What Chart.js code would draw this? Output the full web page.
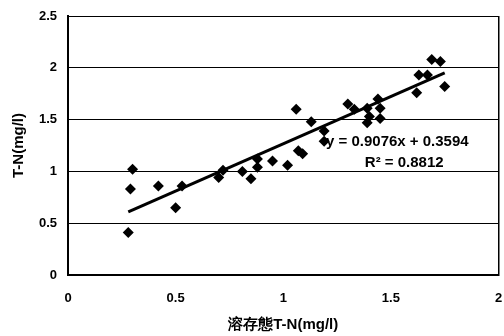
<!DOCTYPE html>
<html>
<head>
<meta charset="utf-8">
<script src="https://cdn.jsdelivr.net/npm/chart.js@4/dist/chart.umd.min.js"></script>
<style>
  html, body { margin: 0; padding: 0; background: #fff; overflow: hidden; }
</style>
</head>
<body>
<canvas id="chart" width="504" height="336"></canvas>
<script>
var dissolvedTN = [0.28, 0.29, 0.30, 0.42, 0.50, 0.53, 0.70, 0.72, 0.81, 0.85,
                   0.88, 0.88, 0.95, 1.02, 1.07, 1.09, 1.06, 1.13, 1.19, 1.19,
                   1.30, 1.33, 1.39, 1.39, 1.40, 1.44, 1.45, 1.45, 1.62, 1.63,
                   1.67, 1.69, 1.73, 1.75];
var totalTN = [0.41, 0.83, 1.02, 0.86, 0.65, 0.86, 0.94, 1.01, 1.00, 0.93,
               1.04, 1.12, 1.10, 1.06, 1.20, 1.17, 1.60, 1.48, 1.39, 1.29,
               1.65, 1.60, 1.61, 1.47, 1.53, 1.70, 1.61, 1.51, 1.76, 1.93,
               1.93, 2.08, 2.06, 1.82];

// trend line ends as drawn
var trendX = [0.28, 1.75];
var trendY = [0.61, 1.95];

var equationText = 'y = 0.9076x + 0.3594';
var r2Text = 'R\u00B2 = 0.8812';

var yTicks = [0, 0.5, 1, 1.5, 2, 2.5];
var xTicks = [0, 0.5, 1, 1.5, 2];

var FONT = 'Liberation Sans, Arial, sans-serif';

var scatterPoints = dissolvedTN.map(function(x, i) { return {x: x, y: totalTN[i]}; });
var trendPoints = trendX.map(function(x, i) { return {x: x, y: trendY[i]}; });

/**
 *  Writes the regression equation next to the line.
 */
var equationLabel = {
    id: 'equationLabel',
    afterDatasetsDraw: function(chart) {
        var ctx = chart.ctx;
        var xs = chart.scales.x, ys = chart.scales.y;
        ctx.save();
        ctx.fillStyle = '#000';
        ctx.font = 'bold 15px ' + FONT;
        ctx.textAlign = 'center';
        ctx.textBaseline = 'middle';
        ctx.fillText(equationText, xs.getPixelForValue(1.53), ys.getPixelForValue(1.284));
        ctx.fillText(r2Text, xs.getPixelForValue(1.562), ys.getPixelForValue(1.081));
        ctx.restore();
    }
};

function plainNumber(v) { return String(v); }

new Chart(document.getElementById('chart').getContext('2d'), {
    type: 'scatter',
    data: {
        datasets: [{
            label: 'T-N',
            data: scatterPoints,
            pointStyle: 'rectRot',
            pointRadius: 5.5,
            pointHoverRadius: 5.5,
            backgroundColor: '#000',
            borderColor: '#000',
            borderWidth: 0
        }, {
            label: 'trend',
            data: trendPoints,
            type: 'line',
            showLine: true,
            pointRadius: 0,
            borderColor: '#000',
            borderWidth: 3,
            fill: false
        }]
    },
    options: {
        responsive: false,
        animation: false,
        events: [],
        layout: { padding: { top: 16, right: 2, left: 0, bottom: 0 } },
        plugins: { legend: { display: false }, tooltip: { enabled: false } },
        scales: {
            x: {
                type: 'linear',
                min: 0,
                max: 2,
                afterBuildTicks: function(s) { s.ticks = xTicks.map(function(v) { return {value: v}; }); },
                afterFit: function(s) { s.height = 61; s.paddingLeft = 0; s.paddingRight = 0; },
                grid: {
                    drawTicks: false,
                    color: function(c) { return c.tick && c.tick.value === 2 ? '#000' : 'rgba(0,0,0,0)'; },
                    lineWidth: 1.5
                },
                border: { display: true, color: '#000', width: 2 },
                ticks: {
                    color: '#000',
                    padding: 16,
                    maxRotation: 0,
                    callback: plainNumber,
                    font: { family: FONT, size: 13, weight: 'bold' }
                },
                title: {
                    display: true,
                    text: '溶存態T-N(mg/l)',
                    color: '#000',
                    padding: { top: 9, bottom: 2 },
                    font: { family: FONT, size: 15, weight: 'bold' }
                }
            },
            y: {
                type: 'linear',
                min: 0,
                max: 2.5,
                afterBuildTicks: function(s) { s.ticks = yTicks.map(function(v) { return {value: v}; }); },
                afterFit: function(s) { s.width = 68; s.paddingTop = 0; s.paddingBottom = 0; },
                grid: { drawTicks: false, color: '#000', lineWidth: 1 },
                border: { display: true, color: '#000', width: 2 },
                ticks: {
                    color: '#000',
                    padding: 11,
                    callback: plainNumber,
                    font: { family: FONT, size: 13, weight: 'bold' }
                },
                title: {
                    display: true,
                    text: 'T-N(mg/l)',
                    color: '#000',
                    padding: { top: 9.5, bottom: 0 },
                    font: { family: FONT, size: 15, weight: 'bold' }
                }
            }
        }
    },
    plugins: [equationLabel]
});
</script>
</body>
</html>
